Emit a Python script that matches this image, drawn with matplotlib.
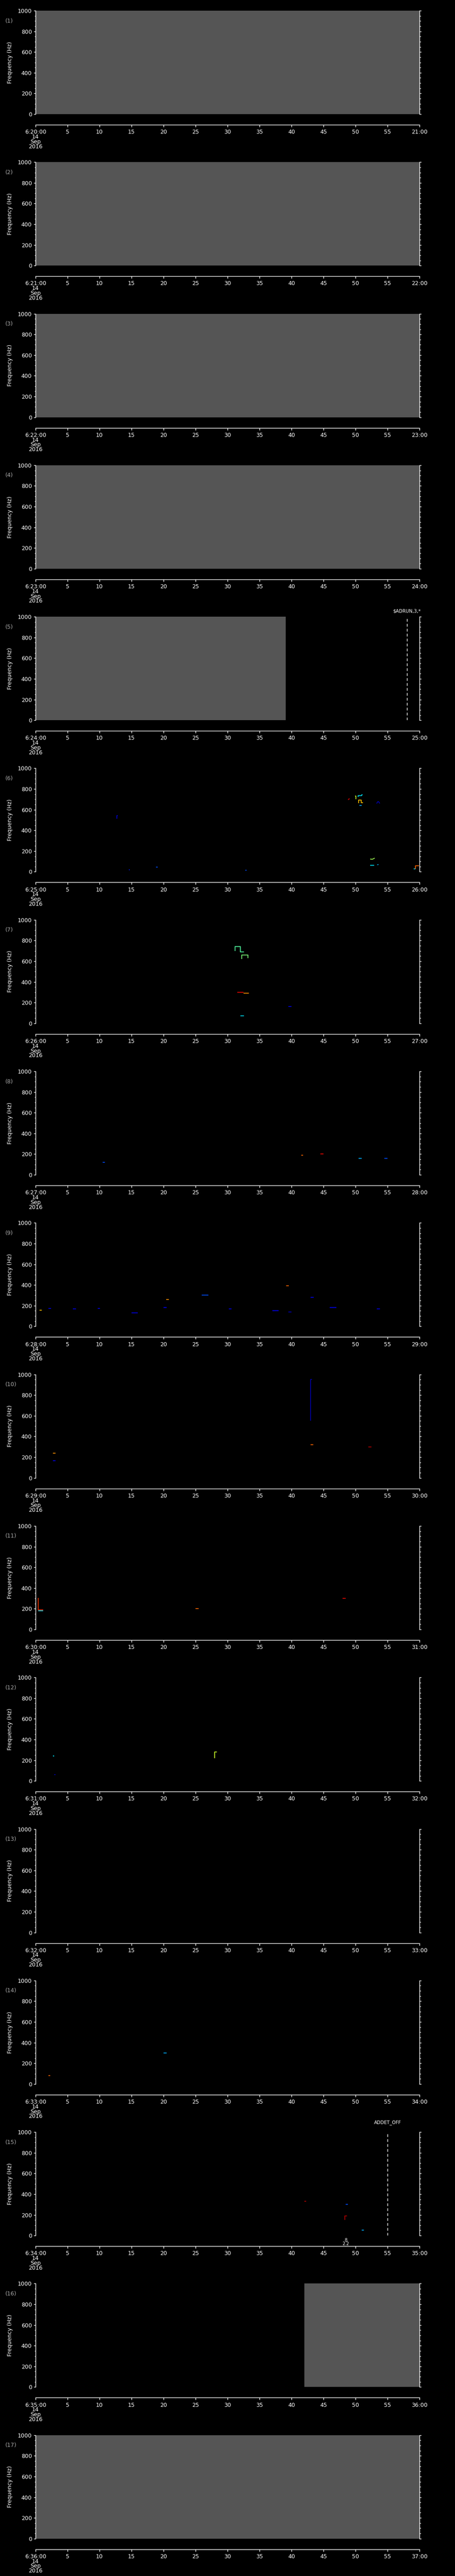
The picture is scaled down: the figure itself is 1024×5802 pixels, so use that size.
import matplotlib
matplotlib.use('Agg')
import matplotlib.pyplot as plt
import numpy as np

W, H = 1024, 5802
N_PANELS = 17
PH = H / N_PANELS

# minute of each panel start (6:20 ... 6:36)
start_minute = list(range(20, 37))
freq_major = [0, 200, 400, 600, 800, 1000]
sec_ticks = list(range(0, 61, 5))

# stretches with no data (drawn gray), in seconds
gray_spans = {1: (0, 60), 2: (0, 60), 3: (0, 60), 4: (0, 60),
              5: (0, 39.1), 16: (42.0, 60), 17: (0, 60)}

# command markers: panel -> (second, text)
events = {5: (58.05, '$ADRUN,3,*'), 15: (55.0, 'ADDET_OFF')}

# small annotation in panel 15
note_15 = (48.5, '8\n2.2')

# detected tracks: (seconds, frequencies, colour value on jet scale)
tracks = {
    6: [([12.7, 12.7, 12.85], [513, 541, 541], 0.08),
        ([14.55, 14.75], [21, 21], 0.15),
        ([18.8, 19.1], [47, 47], 0.2),
        ([32.75, 33.0], [13, 13], 0.2),
        ([48.9, 48.9, 49.0, 49.0], [695, 700, 700, 712], 0.95),
        ([49.95, 50.1, 50.1], [732, 732, 700], 0.6),
        ([50.45, 50.45, 50.95, 50.95, 51.1], [725, 738, 738, 745, 745], 0.35),
        ([50.5, 50.5, 50.9, 50.9, 51.2], [662, 695, 695, 666, 666], 0.7),
        ([50.6, 51.0], [641, 641], 0.3),
        ([53.3, 53.5, 53.6, 53.8], [660, 678, 678, 660], 0.05),
        ([52.3, 52.6, 52.9, 53.0], [123, 120, 128, 133], 0.55),
        ([52.3, 52.9], [64, 64], 0.35),
        ([53.4, 53.6], [68, 70], 0.3),
        ([59.1, 59.4], [27, 27], 0.35),
        ([59.4, 59.4, 59.9], [27, 58, 58], 0.8)],
    7: [([31.2, 31.2, 32.0, 32.0, 32.6], [700, 740, 740, 690, 690], 0.45),
        ([32.2, 32.2, 33.2, 33.2], [620, 660, 660, 630], 0.5),
        ([31.5, 32.5], [300, 300], 0.9),
        ([32.5, 33.3], [290, 290], 0.75),
        ([39.5, 40.0], [160, 160], 0.1),
        ([32.0, 32.6], [70, 70], 0.35)],
    8: [([10.5, 10.8], [120, 120], 0.2),
        ([41.5, 41.8], [190, 190], 0.8),
        ([44.5, 45.0], [200, 200], 0.9),
        ([50.5, 51.0], [160, 160], 0.3),
        ([54.5, 55.0], [160, 160], 0.2)],
    9: [([0.6, 1.0], [157, 157], 0.7),
        ([2.0, 2.4], [175, 175], 0.1),
        ([5.8, 6.3], [170, 170], 0.1),
        ([9.7, 10.1], [175, 175], 0.1),
        ([15.0, 16.0], [130, 130], 0.1),
        ([20.0, 20.5], [180, 180], 0.1),
        ([20.4, 20.8], [260, 260], 0.75),
        ([26.0, 27.0], [300, 300], 0.2),
        ([30.2, 30.6], [170, 170], 0.1),
        ([37.0, 38.0], [150, 150], 0.1),
        ([39.2, 39.6], [390, 390], 0.8),
        ([39.5, 40.0], [140, 140], 0.05),
        ([43.0, 43.5], [280, 280], 0.1),
        ([46.0, 47.0], [180, 180], 0.1),
        ([53.3, 53.8], [170, 170], 0.1)],
    10: [([2.7, 3.1], [240, 240], 0.75),
         ([2.7, 3.1], [167, 167], 0.1),
         ([43.0, 43.0, 43.2], [550, 950, 950], 0.05),
         ([43.0, 43.4], [320, 320], 0.8),
         ([52.0, 52.5], [300, 300], 0.95)],
    11: [([0.4, 0.4, 1.2], [305, 190, 190], 0.85),
         ([0.4, 1.2], [181, 181], 0.35),
         ([25.0, 25.5], [200, 200], 0.8),
         ([48.0, 48.5], [300, 300], 0.9)],
    12: [([2.7, 2.9], [242, 242], 0.35),
         ([2.9, 3.1], [62, 62], 0.05),
         ([28.0, 28.0, 28.3], [220, 280, 280], 0.6)],
    14: [([2.0, 2.3], [81, 81], 0.8),
         ([20.0, 20.5], [300, 300], 0.3)],
    15: [([42.0, 42.3], [330, 330], 0.95),
         ([48.3, 48.3, 48.7], [150, 190, 190], 0.95),
         ([48.5, 48.8], [300, 300], 0.2),
         ([51.0, 51.3], [50, 50], 0.3)],
}

cmap = plt.get_cmap('jet')

fig = plt.figure(figsize=(W / 100, H / 100), dpi=100, facecolor='black')


def fx(px):
    return px / W


def fy(py):
    return 1 - py / H


AX_L, AX_R = 80, 944
AX_T, AX_B = 24, 257

for i in range(N_PANELS):
    p = i + 1
    off = i * PH
    top = off + AX_T
    bot = off + AX_B
    ax = fig.add_axes([fx(AX_L), fy(bot), fx(AX_R - AX_L), (bot - top) / H])
    ax.set_facecolor('black')
    ax.set_xlim(0, 60)
    ax.set_ylim(0, 1000)

    if p in gray_spans:
        a, b = gray_spans[p]
        ax.axvspan(a, b, color='#555555', lw=0)

    for t, f, c in tracks.get(p, []):
        ax.plot(t, f, color=cmap(c), lw=1.2, solid_capstyle='butt')

    if p in events:
        t, txt = events[p]
        ax.axvline(t, color='white', lw=1.0, dashes=(4.5, 3.5))
        lift = (8 if p == 5 else 16) / (bot - top)
        ax.text(t, 1.0 + lift, txt, transform=ax.get_xaxis_transform(), color='white',
                fontsize=7.5, ha='center', va='bottom', clip_on=False)

    if p == 15:
        t, txt = note_15
        ax.text(t, -0.025, txt, transform=ax.get_xaxis_transform(), color='white',
                fontsize=7, ha='center', va='top', linespacing=0.8, clip_on=False)

    ax.spines['top'].set_visible(False)
    for s in ['left', 'right', 'bottom']:
        ax.spines[s].set_color('white')
        ax.spines[s].set_linewidth(1.0)
    ax.spines['bottom'].set_position(('outward', 17.3))

    ax.set_yticks(freq_major)
    ax.set_yticks(np.arange(0, 1001, 50), minor=True)
    ax.set_yticklabels([str(v) for v in freq_major])
    ax.tick_params(axis='y', which='both', direction='out', left=True, right=True,
                   labelright=False, colors='white', labelsize=9, pad=3)
    ax.tick_params(axis='y', which='major', length=3, width=1)
    ax.tick_params(axis='y', which='minor', length=1.8, width=1)

    m = start_minute[i]
    xlabels = ['6:%02d:00\n14\nSep\n2016' % m] + [str(s) for s in sec_ticks[1:-1]] + ['%02d:00' % (m + 1)]
    ax.set_xticks(sec_ticks)
    ax.set_xticklabels(xlabels, linespacing=0.78)
    ax.tick_params(axis='x', which='major', direction='out', length=3.3, width=1,
                   colors='white', labelsize=9, pad=4)

    fig.text(fx(12), fy(off + 47), '(%d)' % p, color='#a8a8a8', fontsize=9,
             ha='left', va='center')
    fig.text(fx(23), fy(off + 140.5), 'Frequency (Hz)', color='white', fontsize=9,
             rotation=90, ha='center', va='center')

fig.savefig('out.png', dpi=100, facecolor='black')
